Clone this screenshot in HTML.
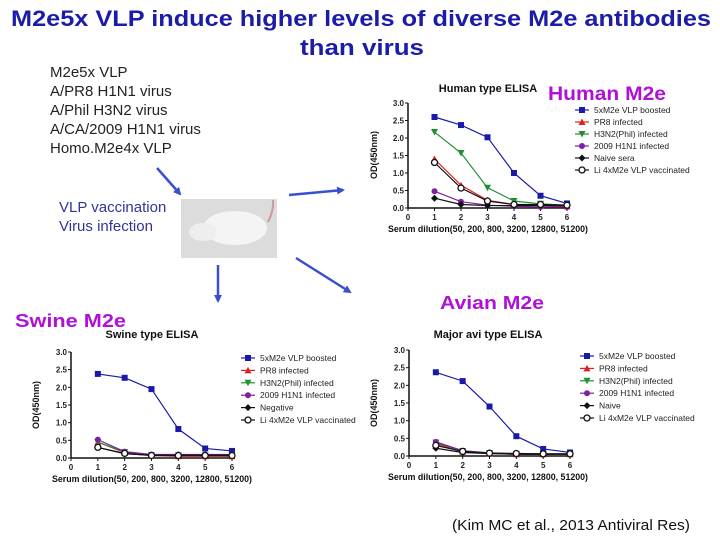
<!DOCTYPE html>
<html><head><meta charset="utf-8"><style>
body{margin:0;background:#fff;width:720px;height:540px;overflow:hidden}
svg{display:block;font-family:"Liberation Sans",sans-serif}
</style></head><body>
<svg id="s" width="720" height="540">
<defs><marker id="ah" markerWidth="8" markerHeight="8" refX="6" refY="4" orient="auto" markerUnits="userSpaceOnUse"><path d="M0,0 L8,4 L0,8 z" fill="#3a4fd0"/></marker></defs>
<text x="361" y="26" text-anchor="middle" font-size="22" font-weight="bold" fill="#1c1ca8" textLength="700" lengthAdjust="spacingAndGlyphs">M2e5x VLP induce higher levels of diverse M2e antibodies</text>
<text x="362" y="55" text-anchor="middle" font-size="22" font-weight="bold" fill="#1c1ca8" textLength="124" lengthAdjust="spacingAndGlyphs">than virus</text>
<g font-size="15" fill="#222">
<text x="50" y="77">M2e5x VLP</text><text x="50" y="96">A/PR8 H1N1 virus</text><text x="50" y="115">A/Phil H3N2 virus</text><text x="50" y="134">A/CA/2009 H1N1 virus</text><text x="50" y="153">Homo.M2e4x VLP</text>
</g>
<g font-size="15" fill="#333399"><text x="59" y="212">VLP vaccination</text><text x="59" y="231">Virus infection</text></g>
<g>
<rect x="181" y="199" width="96" height="59" fill="#dcdcdc"/>
<ellipse cx="235" cy="228" rx="32" ry="17" fill="#f4f4f4"/>
<ellipse cx="203" cy="232" rx="14" ry="9" fill="#eee"/>
<path d="M268,222 Q274,210 273,200" stroke="#c99" stroke-width="2" fill="none"/>
</g>
<g stroke="#3a4fd0" stroke-width="2.5" marker-end="url(#ah)">
<line x1="157" y1="168" x2="180" y2="194"/><line x1="289" y1="195" x2="343" y2="190"/>
<line x1="218" y1="265" x2="218" y2="301"/><line x1="296" y1="258" x2="350" y2="292"/>
</g>
<g font-weight="bold" fill="#b010d8">
<text x="548" y="100" font-size="19" textLength="118" lengthAdjust="spacingAndGlyphs">Human M2e</text>
<text x="440" y="309" font-size="18" textLength="104" lengthAdjust="spacingAndGlyphs">Avian M2e</text>
<text x="15" y="327" font-size="18" textLength="111" lengthAdjust="spacingAndGlyphs">Swine M2e</text>
</g>
<text x="452" y="530" font-size="15" fill="#111" textLength="238" lengthAdjust="spacingAndGlyphs">(Kim MC et al., 2013 Antiviral Res)</text>
<g id="charts"></g>
</svg>
<script>
const xTicks=[0,1,2,3,4,5,6];
const yTicks=[0,0.5,1.0,1.5,2.0,2.5,3.0];
const seriesColors=["#1a1aa8","#e02020","#209030","#8020a0","#111","#111"];
const seriesMarkers=["square","tri","tridown","circle","diamond","ocircle"];
const humanNames=["5xM2e VLP boosted","PR8 infected","H3N2(Phil) infected","2009 H1N1 infected","Naive sera","Li 4xM2e VLP vaccinated"];
const humanVals=[[2.6,2.37,2.02,1.0,0.35,0.13],[1.4,0.65,0.22,0.1,0.07,0.05],[2.17,1.57,0.58,0.2,0.12,0.08],[0.48,0.18,0.08,0.05,0.03,0.03],[0.28,0.1,0.07,0.07,0.07,0.07],[1.3,0.57,0.2,0.1,0.1,0.08]];
const swineNames=["5xM2e VLP boosted","PR8 infected","H3N2(Phil) infected","2009 H1N1 infected","Negative","Li 4xM2e VLP vaccinated"];
const swineVals=[[2.38,2.27,1.95,0.82,0.27,0.2],[0.45,0.15,0.07,0.05,0.05,0.05],[0.45,0.17,0.08,0.07,0.07,0.07],[0.52,0.18,0.1,0.1,0.1,0.1],[0.3,0.12,0.08,0.08,0.08,0.08],[0.3,0.13,0.07,0.07,0.07,0.07]];
const avianNames=["5xM2e VLP boosted","PR8 infected","H3N2(Phil) infected","2009 H1N1 infected","Naive","Li 4xM2e VLP vaccinated"];
const avianVals=[[2.37,2.12,1.4,0.56,0.2,0.1],[0.35,0.12,0.07,0.05,0.05,0.05],[0.38,0.14,0.08,0.06,0.05,0.05],[0.4,0.15,0.09,0.07,0.06,0.06],[0.22,0.1,0.07,0.05,0.05,0.05],[0.3,0.13,0.08,0.07,0.06,0.06]];
const NS="http://www.w3.org/2000/svg";
function mk(p,t,a){const e=document.createElementNS(NS,t);for(const k in a)e.setAttribute(k,a[k]);p.appendChild(e);return e;}
function marker(g,type,x,y,c){
  let e;
  if(type==="square")e=mk(g,"rect",{x:x-3,y:y-3,width:6,height:6,fill:c});
  else if(type==="tri")e=mk(g,"path",{d:`M${x},${y-3.5}L${x+3.5},${y+3}L${x-3.5},${y+3}Z`,fill:c});
  else if(type==="tridown")e=mk(g,"path",{d:`M${x},${y+3.5}L${x+3.5},${y-3}L${x-3.5},${y-3}Z`,fill:c});
  else if(type==="circle")e=mk(g,"circle",{cx:x,cy:y,r:3,fill:c});
  else if(type==="diamond")e=mk(g,"path",{d:`M${x},${y-3.5}L${x+3.5},${y}L${x},${y+3.5}L${x-3.5},${y}Z`,fill:c});
  else e=mk(g,"circle",{cx:x,cy:y,r:3,fill:"#fff",stroke:c,"stroke-width":1.3});
  
  
}
function chart(cfg,names,vals){
  const root=document.getElementById("charts");
  const g=mk(root,"g",{});
  
  
  const sx=v=>cfg.x0+(cfg.x6-cfg.x0)*v/6;
  const sy=v=>cfg.y0-(cfg.y0-cfg.y3)*v/3;
  const t=mk(g,"text",{x:cfg.tx,y:cfg.ty,"text-anchor":"middle","font-size":11,"font-weight":"bold",fill:"#111"});t.textContent=cfg.title;
  
  
  const ax=mk(g,"path",{d:`M${sx(0)},${sy(3)}V${sy(0)}H${sx(6)}`,stroke:"#111","stroke-width":1.5,fill:"none"});
  
  
  yTicks.forEach(v=>{mk(g,"line",{x1:sx(0)-3,x2:sx(0),y1:sy(v),y2:sy(v),stroke:"#111"});
    const l=mk(g,"text",{x:sx(0)-4,y:sy(v)+3,"text-anchor":"end","font-size":8,"font-weight":"bold",fill:"#222"});l.textContent=v.toFixed(1);
    
    });
  xTicks.forEach(v=>{mk(g,"line",{x1:sx(v),x2:sx(v),y1:sy(0),y2:sy(0)+3,stroke:"#111"});
    const l=mk(g,"text",{x:sx(v),y:sy(0)+12,"text-anchor":"middle","font-size":8,"font-weight":"bold",fill:"#222"});l.textContent=v;
    
    });
  const yl=mk(g,"text",{transform:`translate(${cfg.ylx},${cfg.yly}) rotate(-90)`,"text-anchor":"middle","font-size":9,"font-weight":"bold",fill:"#111"});yl.textContent="OD(450nm)";
  
  
  const xl=mk(g,"text",{x:cfg.tx,y:cfg.xly,"text-anchor":"middle","font-size":9,"font-weight":"bold",fill:"#111",textLength:200,lengthAdjust:"spacingAndGlyphs"});xl.textContent="Serum dilution(50, 200, 800, 3200, 12800, 51200)";
  
  
  vals.forEach((s,i)=>{
    const d=s.map((v,j)=>(j?"L":"M")+sx(j+1)+","+sy(v)).join("");
    const p=mk(g,"path",{d:d,stroke:seriesColors[i],"stroke-width":1.2,fill:"none"});
    
    
    s.forEach((v,j)=>marker(g,seriesMarkers[i],sx(j+1),sy(v),seriesColors[i]));
    const ly=cfg.ly0+i*cfg.ldy;
    const le=mk(g,"g",{});
    
    
    mk(le,"line",{x1:cfg.lx-7,x2:cfg.lx+7,y1:ly,y2:ly,stroke:seriesColors[i],"stroke-width":1.2});
    marker(le,seriesMarkers[i],cfg.lx,ly,seriesColors[i]);
    const tt=mk(le,"text",{x:cfg.lx+12,y:ly+3,"font-size":8.5,fill:"#222"});tt.textContent=names[i];
  });
}
chart({name:"human-elisa-chart",title:"Human type ELISA",x0:408,x6:567,y0:208,y3:103,tx:488,ty:92,ylx:377,yly:155,xly:232,lx:582,ly0:110,ldy:12},humanNames,humanVals);
chart({name:"swine-elisa-chart",title:"Swine type ELISA",x0:71,x6:232,y0:458,y3:352,tx:152,ty:338,ylx:39,yly:405,xly:482,lx:248,ly0:358,ldy:12.4},swineNames,swineVals);
chart({name:"avian-elisa-chart",title:"Major avi type ELISA",x0:409,x6:570,y0:456,y3:350,tx:488,ty:338,ylx:377,yly:403,xly:480,lx:587,ly0:356,ldy:12.4},avianNames,avianVals);
</script>
</body></html>
